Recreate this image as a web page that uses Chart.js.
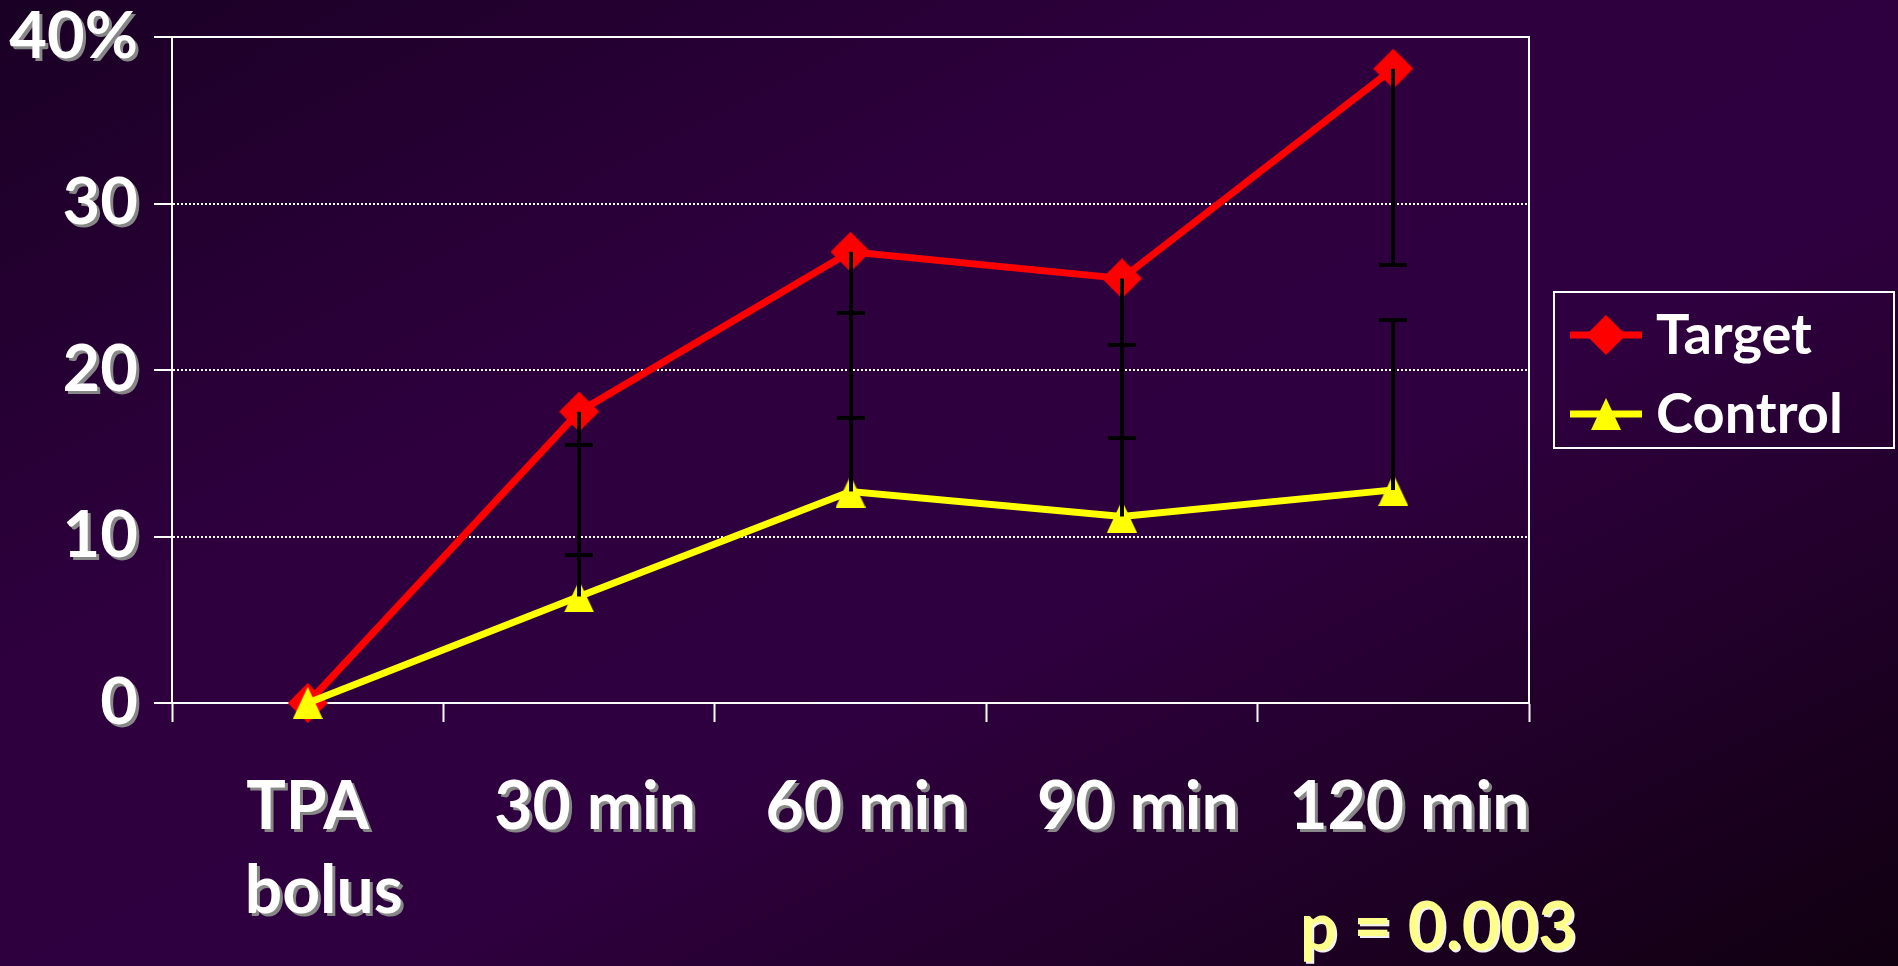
<!DOCTYPE html>
<html>
<head>
<meta charset="utf-8">
<script src="https://cdn.jsdelivr.net/npm/chart.js@4.4.1/dist/chart.umd.min.js"></script>
<style>
  html, body {
    margin: 0;
    padding: 0;
    width: 1898px;
    height: 966px;
    overflow: hidden;
    background: linear-gradient(to bottom right, #1a0024 0%, #2e003e 35%, #2f003f 60%, #100010 100%);
  }
  #wrap { position: relative; width: 1898px; height: 966px; }
</style>
</head>
<body>
<div id="wrap"><canvas id="chart"></canvas></div>
<script>
// Time points after the TPA bolus
const categories = [['TPA  ', 'bolus'], '30 min', '60 min', '90 min', '120 min'];

// Percent values per group
const targetValues  = [0, 17.5, 27.1, 25.5, 38.1];
const controlValues = [0, 6.4, 12.7, 11.2, 12.8];

// Error bar lengths (target drawn downward, control drawn upward)
const targetErrors  = [0, 8.6, 10.0, 9.6, 11.8];
const controlErrors = [0, 9.1, 10.7, 10.3, 10.2];

// Y axis ticks and their labels
const yTickValues = [0, 10, 20, 30, 40];
const yTickLabels = ['0', '10', '20', '30', '40%'];

const seriesNames = ['Target', 'Control'];
const pValueText = 'p = 0.003';

const FONT = 'Lato, "Open Sans", sans-serif';

// Marker images: a red diamond and a yellow triangle
function diamondMarker(size, color) {
  const c = document.createElement('canvas');
  c.width = size; c.height = size;
  const g = c.getContext('2d');
  const h = size / 2;
  g.fillStyle = color;
  g.beginPath();
  g.moveTo(h, 0); g.lineTo(size, h); g.lineTo(h, size); g.lineTo(0, h);
  g.closePath(); g.fill();
  return c;
}
function triangleMarker(w, h, color) {
  const c = document.createElement('canvas');
  c.width = w; c.height = h;
  const g = c.getContext('2d');
  g.fillStyle = color;
  g.beginPath();
  g.moveTo(w / 2, 0); g.lineTo(w, h); g.lineTo(0, h);
  g.closePath(); g.fill();
  return c;
}
const RED = '#ff0000';
const YELLOW = '#ffff00';
const diamond = diamondMarker(40, RED);
const triangle = triangleMarker(30, 32, YELLOW);

const decorations = {
  id: 'decorations',
  beforeDatasetsDraw(chart) {
    // top and right edges of the plot frame
    const { ctx, chartArea: a } = chart;
    ctx.save();
    ctx.strokeStyle = '#ffffff';
    ctx.lineWidth = 2;
    ctx.beginPath();
    ctx.moveTo(a.left, a.top);
    ctx.lineTo(a.right, a.top);
    ctx.lineTo(a.right, a.bottom);
    ctx.stroke();
    ctx.restore();
  },
  afterDatasetsDraw(chart) {
    const { ctx } = chart;
    const xs = chart.scales.x, ys = chart.scales.y;
    ctx.save();
    ctx.strokeStyle = '#000000';
    ctx.lineWidth = 4;
    const bar = (i, v, e, dir) => {
      if (!e) return;
      const px = Math.round(xs.getPixelForValue(i));
      const y0 = ys.getPixelForValue(v);
      const y1 = Math.round(ys.getPixelForValue(v + dir * e));
      ctx.beginPath();
      ctx.moveTo(px, y0); ctx.lineTo(px, y1);
      ctx.moveTo(px - 14, y1); ctx.lineTo(px + 14, y1);
      ctx.stroke();
    };
    targetValues.forEach((v, i) => bar(i, v, targetErrors[i], -1));
    controlValues.forEach((v, i) => bar(i, v, controlErrors[i], 1));
    ctx.restore();
    // grey drop shadow for the tick labels drawn in the next layer
    ctx.shadowColor = 'rgba(135,135,135,1)';
    ctx.shadowOffsetX = 3;
    ctx.shadowOffsetY = 3;
    ctx.shadowBlur = 0;
  },
  afterDraw(chart) {
    const { ctx, chartArea: a } = chart;
    ctx.shadowColor = 'rgba(0,0,0,0)';
    ctx.shadowOffsetX = 0;
    ctx.shadowOffsetY = 0;

    // legend
    const lx = a.right + 25, ly = a.top + 255, lw = 340, lh = 156;
    ctx.save();
    ctx.strokeStyle = '#ffffff';
    ctx.lineWidth = 2;
    ctx.strokeRect(lx, ly, lw, lh);
    const rows = [ly + 43, ly + 122];
    chart.data.datasets.forEach((ds, i) => {
      const cy = rows[i];
      ctx.strokeStyle = ds.borderColor;
      ctx.lineWidth = 7;
      ctx.beginPath();
      ctx.moveTo(lx + 16, cy); ctx.lineTo(lx + 88, cy);
      ctx.stroke();
      const img = ds.pointStyle;
      ctx.drawImage(img, lx + 52 - img.width / 2, cy - img.height / 2);
      ctx.fillStyle = '#ffffff';
      ctx.font = 'bold 56px ' + FONT;
      ctx.textAlign = 'left';
      ctx.textBaseline = 'middle';
      ctx.fillText(ds.label, lx + 102, cy + 1);
    });
    ctx.restore();

    // significance note
    ctx.save();
    ctx.font = 'bold 66px ' + FONT;
    ctx.textAlign = 'left';
    ctx.textBaseline = 'middle';
    ctx.shadowColor = 'rgba(255,255,255,0.95)';
    ctx.shadowOffsetX = 2;
    ctx.shadowOffsetY = 2;
    ctx.fillStyle = '#ffff8c';
    ctx.fillText(pValueText, 1300, 929);
    ctx.restore();
  }
};

new Chart(document.getElementById('chart'), {
  type: 'line',
  data: {
    labels: categories,
    datasets: [
      {
        label: seriesNames[0],
        data: targetValues,
        borderColor: RED,
        backgroundColor: RED,
        borderWidth: 7,
        pointStyle: diamond,
        pointRadius: 20,
        tension: 0,
        clip: false,
        order: 1
      },
      {
        label: seriesNames[1],
        data: controlValues,
        borderColor: YELLOW,
        backgroundColor: YELLOW,
        borderWidth: 7,
        pointStyle: triangle,
        pointRadius: 16,
        tension: 0,
        clip: false,
        order: 0
      }
    ]
  },
  options: {
    responsive: true,
    maintainAspectRatio: false,
    animation: false,
    events: [],
    layout: { padding: { left: 0, top: 37, right: 369, bottom: 0 } },
    plugins: {
      legend: { display: false },
      tooltip: { enabled: false }
    },
    scales: {
      x: {
        offset: true,
        grid: {
          offset: true,
          drawOnChartArea: false,
          drawTicks: true,
          tickLength: 19,
          tickWidth: 2,
          tickColor: '#ffffff',
          color: '#ffffff'
        },
        border: { display: true, color: '#ffffff', width: 2 },
        ticks: {
          z: 1,
          color: '#ffffff',
          font: { family: FONT, size: 66, weight: 'bold', lineHeight: 1.27 },
          padding: 44,
          labelOffset: 16,
          maxRotation: 0,
          autoSkip: false
        },
        afterFit(scale) {
          scale.height = 263;
          scale.paddingLeft = 0;
          scale.paddingRight = 0;
        }
      },
      y: {
        min: 0,
        max: 40,
        afterBuildTicks(scale) {
          scale.ticks = yTickValues.map(v => ({ value: v }));
        },
        grid: {
          drawTicks: true,
          tickLength: 18,
          tickWidth: 2,
          tickColor: '#ffffff',
          tickBorderDash: [],
          lineWidth: 2,
          color: ctx => (ctx.tick && (ctx.tick.value === 0 || ctx.tick.value === 40)) ? 'rgba(0,0,0,0)' : '#ffffff'
        },
        border: { display: true, color: '#ffffff', width: 2, dash: [2, 2] },
        ticks: {
          z: 1,
          color: '#ffffff',
          font: { family: FONT, size: 65, weight: 'bold', lineHeight: 1 },
          padding: 16,
          callback: v => yTickLabels[yTickValues.indexOf(v)]
        },
        afterFit(scale) {
          scale.width = 172;
          scale.paddingTop = 0;
          scale.paddingBottom = 0;
        }
      }
    }
  },
  plugins: [decorations]
});
</script>
</body>
</html>
